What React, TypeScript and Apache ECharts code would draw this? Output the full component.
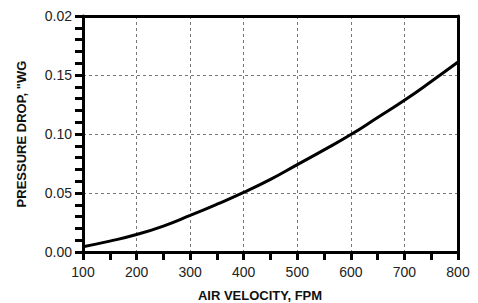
import React, { useEffect, useRef } from "react";
import * as echarts from "echarts";

const velocities = [100, 150, 200, 250, 300, 350, 400, 450, 500, 550, 600, 650, 700, 750, 800];
const pressureDrop = [0.0045, 0.0092, 0.0148, 0.022, 0.031, 0.0405, 0.0505, 0.0615, 0.074, 0.0865, 0.0995, 0.114, 0.1286, 0.1445, 0.161];
const yTickValues = [0, 0.05, 0.1, 0.15, 0.2];
const yTickLabels = ["0.00", "0.05", "0.10", "0.15", "0.02"];
const xTitle = "AIR VELOCITY, FPM";
const yTitle = "PRESSURE DROP, \"WG";

export default function App() {
  const ref = useRef<HTMLDivElement>(null);
  useEffect(() => {
    if (!ref.current) return;
    const chart = echarts.init(ref.current, null, { renderer: "svg" });
    const font = "'Liberation Sans', Arial, sans-serif";
    const border = {
      show: true,
      axisLine: { show: true, onZero: false, lineStyle: { color: "#000", width: 3 } },
      axisTick: { show: false },
      axisLabel: { show: false },
      splitLine: { show: false },
    };
    const titleStyle = { fontSize: 13, fontWeight: "bold", fontFamily: font, color: "#111" };
    chart.setOption({
      animation: false,
      backgroundColor: "#ffffff",
      grid: { left: 83, right: 20, top: 16, bottom: 51, containLabel: false, outerBoundsMode: "none" },
      xAxis: [
        {
          type: "value",
          min: 100,
          max: 800,
          interval: 100,
          name: xTitle,
          nameLocation: "middle",
          nameGap: 37,
          nameTextStyle: { ...titleStyle, padding: [0, 21, 0, 0] },
          axisLine: { show: true, onZero: false, lineStyle: { color: "#000", width: 3 } },
          axisTick: { show: true, length: 8, lineStyle: { color: "#000", width: 3 } },
          minorTick: { show: true, splitNumber: 2, length: 8, lineStyle: { color: "#000", width: 3 } },
          splitLine: { show: true, lineStyle: { color: "#777", type: [3, 3], width: 1 } },
          axisLabel: { color: "#222", fontSize: 14, fontFamily: font, margin: 13 },
        },
        { type: "value", position: "top", min: 100, max: 800, interval: 100, ...border },
      ],
      yAxis: [
        {
          type: "value",
          min: 0,
          max: 0.2,
          interval: 0.05,
          name: yTitle,
          nameLocation: "middle",
          nameRotate: 90,
          nameGap: 55,
          nameTextStyle: titleStyle,
          axisLine: { show: true, onZero: false, lineStyle: { color: "#000", width: 3 } },
          axisTick: { show: true, length: 8, lineStyle: { color: "#000", width: 3 } },
          minorTick: { show: true, splitNumber: 5, length: 8, lineStyle: { color: "#000", width: 3 } },
          splitLine: { show: true, lineStyle: { color: "#777", type: [3, 3], width: 1 } },
          axisLabel: {
            color: "#222",
            fontSize: 14,
            fontFamily: font,
            margin: 11,
            formatter: (v: number) => {
              const i = yTickValues.findIndex((t) => Math.abs(t - v) < 1e-6);
              return i >= 0 ? yTickLabels[i] : "";
            },
          },
        },
        { type: "value", position: "right", min: 0, max: 0.2, interval: 0.05, ...border },
      ],
      series: [
        {
          type: "line",
          xAxisIndex: 0,
          yAxisIndex: 0,
          data: velocities.map((v, i) => [v, pressureDrop[i]]),
          smooth: true,
          showSymbol: false,
          lineStyle: { color: "#000", width: 3 },
        },
      ],
    });
    return () => chart.dispose();
  }, []);
  return <div ref={ref} style={{ position: "fixed", left: 0, top: 0, width: 478, height: 303 }} />;
}
